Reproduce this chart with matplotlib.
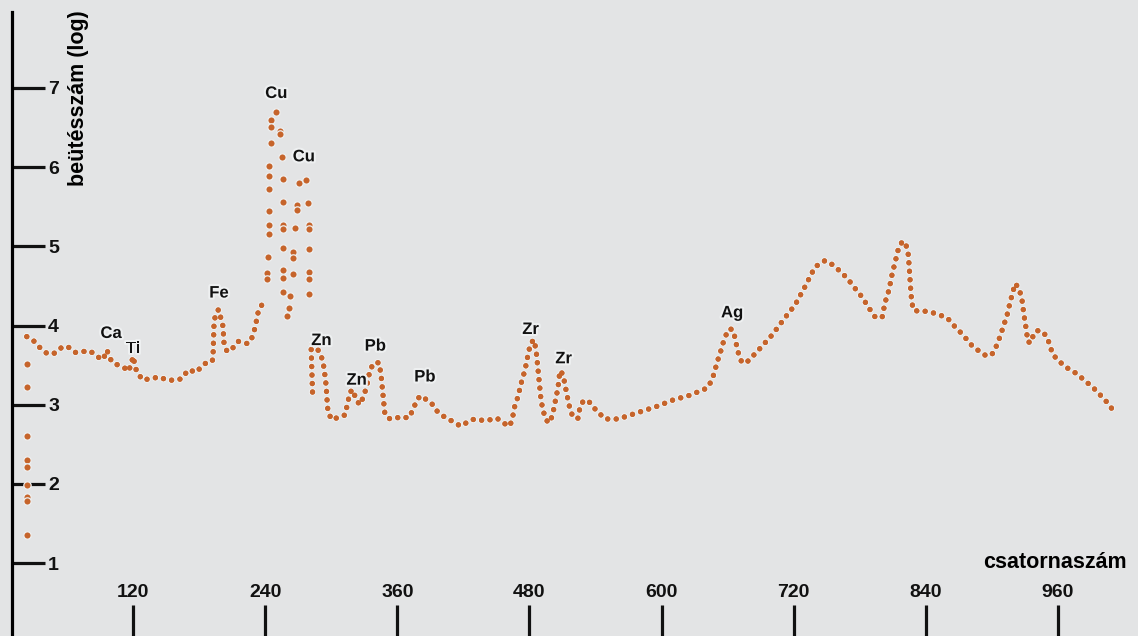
import matplotlib.pyplot as plt
import matplotlib.patheffects as pe

plt.rcParams['font.family'] = ['Liberation Sans', 'DejaVu Sans']
plt.rcParams['font.weight'] = 'bold'

BG = '#e3e4e5'
DOT = '#c6642b'
HALO = '#eef0f1'

# first channels: single scattered readings
start_ch = [23.5, 23.5, 23.6, 23.6, 23.5, 23.5, 23.5, 23.5, 23.5]
start_val = [3.52, 3.23, 2.61, 2.30, 2.22, 1.99, 1.84, 1.78, 1.36]

# low channels, Ca / Ti / Fe, up to the Cu edge
low_ch = [23.5, 29.5, 35.5, 41.6, 47.3, 52.8, 55.5, 61.0, 67.3, 73.4,
          81.0, 87.0, 92.8, 96.4, 97.3, 100.7, 106.4, 112.7, 115.5, 118.2,
          120.0, 121.8, 123.4, 129.1, 135.4, 144.5, 150.6, 159.7, 164.2, 170.2,
          177.8, 182.4, 185.4, 191.5, 192.6, 193.5, 194.5, 197.5, 199.0, 199.6,
          201.7, 202.6, 205.4, 210.8, 215.4, 224.4, 227.8, 230.8, 233.5, 238.3]
low_val = [3.86, 3.81, 3.72, 3.65, 3.64, 3.69, 3.73, 3.73, 3.66, 3.67,
           3.68, 3.61, 3.57, 3.69, 3.65, 3.54, 3.50, 3.46, 3.42, 3.50,
           3.61, 3.50, 3.41, 3.31, 3.33, 3.35, 3.31, 3.31, 3.33, 3.44,
           3.41, 3.49, 3.52, 3.54, 3.58, 4.00, 4.11, 4.20, 4.17, 4.10,
           3.99, 3.78, 3.67, 3.72, 3.80, 3.77, 3.84, 3.97, 4.16, 4.30]

# Cu K-alpha / K-beta region, single readings
cu_ch = [241.4, 241.4, 242.3, 243.8, 243.8, 243.8, 243.5, 243.5, 243.5, 245.0,
         245.3, 245.3, 249.9, 253.5, 253.5, 255.0, 255.9, 255.9, 255.9, 255.9,
         255.9, 255.9, 255.9, 256.2, 259.6, 261.7, 262.6, 265.3, 265.3, 265.3,
         267.1, 268.7, 268.7, 270.7, 277.1, 278.9, 279.8, 279.8, 279.8, 279.8,
         279.8, 279.8]
cu_val = [4.66, 4.59, 4.87, 6.02, 5.89, 5.73, 5.45, 5.27, 5.16, 6.31,
          6.60, 6.51, 6.70, 6.45, 6.42, 6.13, 5.85, 5.56, 5.27, 5.22,
          4.98, 4.70, 4.60, 4.42, 4.12, 4.22, 4.37, 4.93, 4.85, 4.65,
          5.23, 5.52, 5.46, 5.80, 5.84, 5.55, 5.27, 5.22, 4.97, 4.68,
          4.59, 4.40]

# Zn onwards to the end of the spectrum
high_ch = [283.0, 281.6, 286.2, 290.7, 293.4, 295.3, 296.2, 297.1, 300.7, 308.0,
           312.5, 315.2, 317.1, 319.8, 322.5, 326.1, 329.8, 332.5, 335.2, 338.9,
           343.4, 345.2, 347.0, 348.8, 353.4, 357.9, 365.2, 369.7, 374.3, 377.0,
           380.6, 384.3, 387.9, 391.5, 395.2, 399.7, 404.2, 408.8, 413.3, 417.9,
           422.4, 427.0, 432.4, 437.8, 444.2, 450.5, 456.0, 462.3, 465.1, 466.9,
           469.6, 471.4, 473.2, 476.0, 477.8, 479.6, 481.4, 484.1, 486.0, 486.9,
           487.8, 488.7, 489.6, 490.5, 492.3, 495.0, 497.8, 500.5, 502.3, 504.1,
           505.9, 506.9, 507.8, 510.5, 512.3, 514.1, 515.9, 517.8, 520.5, 524.1,
           525.9, 528.6, 532.3, 536.8, 540.4, 545.0, 548.6, 555.0, 560.4, 565.0,
           580.4, 595.9, 610.4, 625.8, 641.2, 645.8, 648.5, 651.2, 654.0, 656.7,
           659.4, 662.1, 664.9, 666.7, 668.5, 670.3, 673.0, 677.6, 686.7, 700.3,
           712.1, 721.2, 730.2, 739.3, 748.4, 753.0, 759.3, 768.4, 775.6, 782.0,
           789.3, 793.8, 800.2, 802.9, 806.5, 809.2, 812.0, 814.7, 817.4, 821.1,
           823.8, 824.7, 825.6, 826.5, 828.3, 832.9, 840.1, 846.5, 852.8, 859.2,
           864.7, 871.0, 877.4, 882.8, 889.2, 895.5, 901.0, 904.6, 907.3, 910.1,
           913.7, 916.4, 919.1, 921.0, 924.6, 927.3, 929.1, 930.9, 932.7, 936.4,
           937.3, 940.0, 943.7, 946.4, 950.0, 952.7, 955.4, 961.8, 966.3, 972.7,
           978.1, 984.5, 990.9, 997.2, 1002.7, 1010.0]
high_val = [3.16, 3.78, 3.73, 3.63, 3.47, 3.25, 3.06, 2.90, 2.81, 2.85,
            2.87, 3.04, 3.16, 3.19, 3.06, 3.00, 3.12, 3.25, 3.44, 3.53,
            3.53, 3.38, 3.12, 2.87, 2.82, 2.83, 2.85, 2.83, 2.93, 3.04,
            3.11, 3.09, 3.04, 3.01, 2.93, 2.88, 2.83, 2.80, 2.76, 2.73,
            2.77, 2.81, 2.82, 2.80, 2.81, 2.83, 2.77, 2.73, 2.87, 3.00,
            3.10, 3.21, 3.31, 3.44, 3.57, 3.69, 3.78, 3.82, 3.69, 3.57,
            3.44, 3.31, 3.19, 3.06, 2.93, 2.81, 2.77, 2.85, 2.96, 3.09,
            3.21, 3.34, 3.43, 3.38, 3.25, 3.12, 3.00, 2.90, 2.83, 2.83,
            2.97, 3.04, 3.06, 3.00, 2.93, 2.87, 2.82, 2.82, 2.82, 2.84,
            2.91, 2.98, 3.06, 3.12, 3.21, 3.31, 3.44, 3.57, 3.69, 3.82,
            3.91, 3.96, 3.94, 3.84, 3.72, 3.62, 3.53, 3.54, 3.67, 3.88,
            4.10, 4.26, 4.49, 4.74, 4.82, 4.79, 4.72, 4.60, 4.47, 4.36,
            4.20, 4.11, 4.10, 4.29, 4.45, 4.64, 4.80, 4.95, 5.04, 5.06,
            4.92, 4.77, 4.58, 4.39, 4.20, 4.18, 4.18, 4.16, 4.13, 4.10,
            4.01, 3.92, 3.82, 3.73, 3.67, 3.61, 3.65, 3.76, 3.86, 3.98,
            4.13, 4.29, 4.43, 4.53, 4.47, 4.32, 4.13, 3.97, 3.79, 3.79,
            3.88, 3.93, 3.94, 3.91, 3.86, 3.74, 3.63, 3.54, 3.48, 3.43,
            3.38, 3.30, 3.23, 3.14, 3.06, 2.93]

# element names and where they sit
peak_names = ['Ca', 'Ti', 'Fe', 'Cu', 'Cu', 'Zn', 'Zn', 'Pb', 'Pb', 'Zr', 'Zr', 'Ag']
peak_ch = [100, 120, 198, 250, 275, 291, 323, 340, 385, 481, 511, 664]
peak_lab = [3.90, 3.71, 4.41, 6.93, 6.13, 3.81, 3.31, 3.74, 3.35, 3.95, 3.58, 4.16]

x_ticks = [120, 240, 360, 480, 600, 720, 840, 960]
y_ticks = [1, 2, 3, 4, 5, 6, 7]

fig = plt.figure(figsize=(11.38, 6.36), dpi=100, facecolor=BG)
ax = fig.add_axes([0, 0, 1, 1], facecolor=BG)
ax.set_xlim(-0.8, 1032.6)
ax.set_ylim(0.08, 8.11)

lw = 3.8
halo = [pe.withStroke(linewidth=lw + 1.6, foreground=HALO), pe.Normal()]
for xs, ys in [(low_ch, low_val), (high_ch, high_val)]:
    ax.plot(xs, ys, color=DOT, lw=lw, linestyle=(0, (0.01, 1.6)),
            dash_capstyle='round', path_effects=halo, zorder=3)

for xs, ys in [(start_ch, start_val), (cu_ch, cu_val)]:
    ax.plot(xs, ys, 'o', color=DOT, ms=5.3, mec=HALO, mew=0.9,
            linestyle='none', zorder=3)

for name, x, y in zip(peak_names, peak_ch, peak_lab):
    ax.text(x, y, name, ha='center', va='center', fontsize=12,
            fontweight='bold', color='#111111', zorder=4,
            path_effects=[pe.withStroke(linewidth=3, foreground=HALO)])

# left axis drawn at channel 10, ticks pointing into the plot
for side in ['top', 'right', 'bottom']:
    ax.spines[side].set_visible(False)
ax.spines['left'].set_position(('data', 10.1))
ax.spines['left'].set_linewidth(2.3)
ax.spines['left'].set_bounds(0.08, 7.96)

ax.set_yticks(y_ticks)
ax.set_xticks(x_ticks)
ax.tick_params(axis='y', direction='in', length=24, width=2.3,
               pad=-26, labelsize=14, colors='#111111')
ax.tick_params(axis='x', direction='in', length=22, width=2.3,
               pad=-25, labelsize=14, colors='#111111')
for lab in ax.get_yticklabels():
    lab.set_horizontalalignment('left')
    lab.set_fontweight('bold')
for lab in ax.get_xticklabels():
    lab.set_verticalalignment('bottom')
    lab.set_fontweight('bold')

ax.set_ylabel('beütésszám (log)', fontsize=15.5, fontweight='bold')
ax.yaxis.set_label_coords(0.069, 0.845)
ax.yaxis.label.set_verticalalignment('center')
ax.set_xlabel('csatornaszám', fontsize=15.5, fontweight='bold')
ax.xaxis.set_label_coords(0.927, 0.115)
ax.xaxis.label.set_verticalalignment('center')

fig.savefig('out.png', dpi=100, facecolor=BG)
